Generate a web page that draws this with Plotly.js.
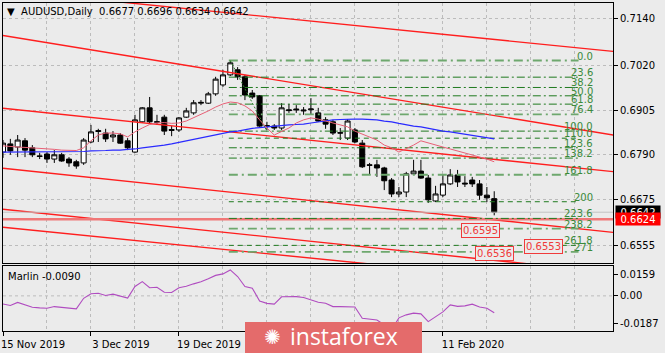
<!DOCTYPE html>
<html><head><meta charset="utf-8">
<script src="https://cdn.plot.ly/plotly-3.0.1.min.js"></script>
<style>html,body{margin:0;padding:0;background:#ebebeb;}#chart{width:665px;height:353px;}</style>
</head><body><div id="chart"></div>
<script>
// ---- candles (15 Nov 2019 .. 20 Feb 2020, daily) ----
const openP  = [0.6797,0.6818,0.6810,0.6826,0.6808,0.6787,0.6792,0.6779,0.6790,0.6779,0.6772,0.6769,0.6823,0.6850,0.6846,0.6836,0.6841,0.6826,0.6797,0.6875,0.6911,0.6874,0.6887,0.6855,0.6854,0.6887,0.6898,0.6923,0.6923,0.6947,0.6970,0.6996,0.7009,0.6991,0.6949,0.6942,0.6865,0.6864,0.6859,0.6906,0.6908,0.6903,0.6906,0.6898,0.6880,0.6875,0.6847,0.6833,0.6854,0.6820,0.6764,0.6764,0.6756,0.6725,0.6689,0.6694,0.6741,0.6748,0.6730,0.6671,0.6686,0.6715,0.6738,0.6717,0.6725,0.6715,0.6686,0.6677];
const highP  = [0.6828,0.6831,0.6841,0.6833,0.6815,0.6795,0.6797,0.6802,0.6795,0.6784,0.6777,0.6833,0.6867,0.6857,0.6857,0.6851,0.6846,0.6833,0.6893,0.6913,0.6939,0.6893,0.6893,0.6864,0.6887,0.6911,0.6931,0.6931,0.6952,0.6991,0.7009,0.7034,0.7016,0.6996,0.6957,0.6944,0.6875,0.6869,0.6923,0.6921,0.6918,0.6913,0.6936,0.6911,0.6887,0.6880,0.6859,0.6882,0.6859,0.6828,0.6769,0.6777,0.6759,0.6730,0.6707,0.6746,0.6777,0.6777,0.6738,0.6710,0.6738,0.6753,0.6751,0.6735,0.6733,0.6725,0.6707,0.6696];
const lowP   = [0.6782,0.6790,0.6784,0.6784,0.6784,0.6779,0.6769,0.6769,0.6772,0.6759,0.6754,0.6764,0.6820,0.6823,0.6823,0.6823,0.6818,0.6802,0.6795,0.6872,0.6872,0.6867,0.6841,0.6838,0.6849,0.6885,0.6893,0.6918,0.6921,0.6942,0.6965,0.6993,0.6983,0.6931,0.6934,0.6862,0.6854,0.6854,0.6854,0.6898,0.6898,0.6893,0.6893,0.6875,0.6857,0.6841,0.6828,0.6828,0.6820,0.6756,0.6738,0.6733,0.6699,0.6681,0.6681,0.6681,0.6738,0.6728,0.6666,0.6668,0.6681,0.6712,0.6707,0.6707,0.6707,0.6674,0.6668,0.6634];
const closeP = [0.6820,0.6800,0.6828,0.6802,0.6790,0.6786,0.6779,0.6790,0.6774,0.6769,0.6761,0.6828,0.6849,0.6852,0.6831,0.6841,0.6820,0.6808,0.6880,0.6911,0.6875,0.6875,0.6851,0.6853,0.6885,0.6903,0.6924,0.6925,0.6947,0.6985,0.6996,0.7027,0.6991,0.6944,0.6939,0.6864,0.6864,0.6859,0.6911,0.6904,0.6906,0.6905,0.6908,0.6877,0.6869,0.6846,0.6846,0.6877,0.6823,0.6759,0.6763,0.6756,0.6723,0.6689,0.6694,0.6741,0.6748,0.6730,0.6674,0.6689,0.6715,0.6738,0.6720,0.6715,0.6715,0.6686,0.6679,0.6642];

// ---- moving averages ----
const maSlow = [0.6797,0.6797,0.6797,0.6797,0.6797,0.6797,0.6797,0.6797,0.6797,0.6797,0.6797,0.67985,0.6800,0.6800,0.6801,0.6802,0.6802,0.6804,0.6805,0.6808,0.6810,0.6813,0.6815,0.6818,0.6822,0.6826,0.6829,0.6833,0.6837,0.6841,0.6845,0.6849,0.6851,0.6855,0.6858,0.6860,0.6862,0.6864,0.6866,0.6867,0.6868,0.6869,0.6872,0.6875,0.6877,0.6880,0.6881,0.6882,0.6882,0.6882,0.6881,0.6880,0.6877,0.6875,0.6871,0.6867,0.6864,0.6862,0.6858,0.6854,0.6851,0.6849,0.6846,0.6844,0.6841,0.6837,0.6835,0.6831];
const maFast = [0.6813,0.6811,0.6810,0.6809,0.6808,0.6806,0.6805,0.6804,0.6802,0.6802,0.6801,0.6808,0.6826,0.6841,0.6846,0.6846,0.6844,0.6836,0.6849,0.6859,0.6868,0.6872,0.6873,0.6871,0.6872,0.6877,0.6885,0.6895,0.6903,0.6913,0.6921,0.6926,0.6924,0.6916,0.6903,0.6880,0.6859,0.6841,0.6849,0.6859,0.6872,0.6880,0.6885,0.6882,0.6877,0.6872,0.6867,0.6862,0.6851,0.6844,0.6836,0.6828,0.6815,0.6808,0.6797,0.6805,0.6815,0.6826,0.6820,0.6815,0.6810,0.6805,0.6800,0.6795,0.6789,0.6784,0.6779,0.6772];

// ---- Marlin oscillator ----
const marlin = [-0.0043,-0.0051,-0.0035,-0.0048,-0.0061,-0.0064,-0.0066,-0.0057,-0.0062,-0.0064,-0.0069,-0.0013,0.0011,0.0014,0.0002,0.0009,0.0000,-0.0012,0.0050,0.0076,0.0043,0.0046,0.0019,0.0018,0.0043,0.0051,0.0064,0.0075,0.0091,0.0109,0.0117,0.0138,0.0103,0.0050,0.0041,-0.0027,-0.0040,-0.0044,-0.0005,-0.0004,-0.0004,-0.0009,-0.0021,-0.0034,-0.0039,-0.0057,-0.0057,-0.0057,-0.0059,-0.0119,-0.0122,-0.0128,-0.0154,-0.0181,-0.0117,-0.0101,-0.0092,-0.0096,-0.0137,-0.0112,-0.0085,-0.0048,-0.0056,-0.0053,-0.0044,-0.0059,-0.0066,-0.0090];

// ---- axes labels ----
const tickIdx  = [0, 12, 24, 60];
const tickText = ['15 Nov 2019', '3 Dec 2019', '19 Dec 2019', '11 Feb 2020'];
const priceTicks  = [0.7140, 0.7020, 0.6905, 0.6790, 0.6675, 0.6555];
const marlinTicks = [0.0159, 0.00, -0.0187];
const marlinTickText = ['0.0159', '0.00', '-0.0187'];

// ---- drawn objects ----
const channelIdx   = [0, 84];
const channelStart = [0.7214, 0.70975, 0.69098, 0.67552, 0.66495, 0.66031];
const channelEnd   = [0.7055, 0.68387, 0.67449, 0.65885, 0.64846, 0.64444];
const supportLevel = 0.6624;
const fibHigh = 0.7033, fibLow = 0.6851;
const fibHighIdx = 31, fibLowIdx = 36;
const fibLevels = [0, 23.6, 38.2, 50, 61.8, 76.4, 100, 110, 123.6, 138.2, 161.8, 200, 223.6, 238.2, 261.8, 271];
const fibLabels = ['0.0', '23.6', '38.2', '50.0', '61.8', '76.4', '100.0', '110.0', '123.6', '138.2', '161.8', '200', '223.6', '238.2', '261.8', '271'];
const targetLevels = [0.6595, 0.6553, 0.6536];

const last = closeP.length - 1;
const barIdx = closeP.map((_, i) => i);
const BG = '#ebebeb';
const FONT = 'DejaVu Sans';
const X_END = 84;

const traces = [];
channelStart.forEach((p0, k) => {
  traces.push({type:'scatter', mode:'lines', x:channelIdx, y:[p0, channelEnd[k]],
    line:{color:'rgb(255,30,30)', width:1.4}, hoverinfo:'skip'});
});
traces.push({type:'scatter', mode:'lines', x:[0, X_END], y:[supportLevel, supportLevel],
  line:{color:'rgb(240,120,120)', width:2.6}, hoverinfo:'skip'});
traces.push({type:'scatter', mode:'lines', x:[0, X_END], y:[closeP[last], closeP[last]],
  line:{color:'#c2c2c2', width:1}, hoverinfo:'skip'});

const fibPrice = l => fibHigh - l / 100 * (fibHigh - fibLow);
const lightSet = new Set([0, 76.4, 161.8, 238.2, 271]);
const dashedSet = new Set([110, 200, 261.8]);
const FIB_X0 = 30.8, FIB_X1 = 78.5;
const groups = {light:{x:[],y:[]}, dashed:{x:[],y:[]}, dd:{x:[],y:[]}};
fibLevels.forEach(l => {
  const g = lightSet.has(l) ? 'light' : (dashedSet.has(l) ? 'dashed' : 'dd');
  const p = fibPrice(l);
  groups[g].x.push(FIB_X0, FIB_X1, null);
  groups[g].y.push(p, p, null);
});
traces.push({type:'scatter', mode:'lines', x:groups.dd.x, y:groups.dd.y,
  line:{color:'#1f7a1f', width:1, dash:'8px,3px,2px,3px'}, hoverinfo:'skip'});
traces.push({type:'scatter', mode:'lines', x:groups.dashed.x, y:groups.dashed.y,
  line:{color:'#1f7a1f', width:1, dash:'5px,4px'}, hoverinfo:'skip'});
traces.push({type:'scatter', mode:'lines', x:groups.light.x, y:groups.light.y,
  line:{color:'#6ea86e', width:1.8, dash:'9px,4px,2px,4px'}, hoverinfo:'skip'});
traces.push({type:'scatter', mode:'lines', x:[fibHighIdx, fibLowIdx], y:[fibHigh, fibLow],
  line:{color:'#2a802a', width:1, dash:'2px,2px'}, hoverinfo:'skip'});

traces.push({type:'scatter', mode:'lines', x:barIdx, y:maSlow, line:{color:'#2a2aff', width:1.2}, hoverinfo:'skip'});
traces.push({type:'scatter', mode:'lines', x:barIdx, y:maFast, line:{color:'rgb(232,96,118)', width:1}, hoverinfo:'skip'});

traces.push({type:'candlestick', x:barIdx, open:openP, high:highP, low:lowP, close:closeP,
  increasing:{line:{color:'#000', width:1}, fillcolor:'#ffffff'},
  decreasing:{line:{color:'#000', width:1}, fillcolor:'#000000'},
  whiskerwidth:0, hoverinfo:'skip'});

traces.push({type:'scatter', mode:'lines', x:barIdx, y:marlin, xaxis:'x2', yaxis:'y2',
  line:{color:'#b04cc0', width:1.1}, hoverinfo:'skip'});

const gridStyle = {gridcolor:'#bcbcbc', griddash:'3px,3px', gridwidth:1};
const frame = {showline:true, mirror:true, linecolor:'#000', linewidth:1, zeroline:false};
const mTop = marlinTicks[0], mBot = marlinTicks[2];
const inset = (mTop - mBot) * 8 / 65;

const annotations = [];
annotations.push({xref:'paper', yref:'paper', x:0, xshift:2, xanchor:'left', y:(331-11.5)/328, yanchor:'middle',
  text:'\u25BC\u00a0\u00a0AUDUSD,Daily\u00a0\u00a0' + [openP[last], highP[last], lowP[last], closeP[last]].map(v=>v.toFixed(4)).join(' '),
  showarrow:false, font:{family:FONT, size:10, color:'#000'}});
annotations.push({xref:'paper', yref:'paper', x:0, xshift:3, xanchor:'left', y:(331-276)/328, yanchor:'middle',
  text:'Marlin ' + marlin[last].toFixed(4), showarrow:false, font:{family:FONT, size:10, color:'#000'}});
fibLevels.forEach((l, k) => {
  annotations.push({xref:'x', yref:'y', x:80.76, xanchor:'right', y:fibPrice(l), yanchor:'bottom', yshift:-3,
    text:fibLabels[k], showarrow:false, font:{family:FONT, size:10, color:'#3a8a3a'}});
});
const targetX = [65.1, 73.7, 67.0];
targetLevels.forEach((p, k) => {
  annotations.push({xref:'x', yref:'y', x:targetX[k], y:p, xanchor:'center', yanchor:'middle',
    text:p.toFixed(4), showarrow:false, font:{family:FONT, size:10, color:'#f03a3a'},
    bordercolor:'#f03a3a', borderwidth:1, borderpad:1, bgcolor:BG});
});
annotations.push({xref:'paper', yref:'y', x:1, xshift:2, xanchor:'left', y:closeP[last], yanchor:'middle',
  text:closeP[last].toFixed(4), showarrow:false, width:42, height:10, bgcolor:'#000', borderpad:1,
  font:{family:FONT, size:10, color:'#fff'}});
annotations.push({xref:'paper', yref:'y', x:1, xshift:2, xanchor:'left', y:supportLevel, yanchor:'middle',
  text:supportLevel.toFixed(4), showarrow:false, width:42, height:10, bgcolor:'#ff0000', borderpad:1,
  font:{family:FONT, size:10, color:'#fff'}});
annotations.push({xref:'paper', yref:'paper', x:(262-3)/610, xanchor:'left', y:(331-337)/328, yanchor:'middle',
  text:'\u273A', showarrow:false, font:{family:'DejaVu Sans', size:20, color:'#fff'}});
annotations.push({xref:'paper', yref:'paper', x:(288-3)/610, xanchor:'left', y:(331-336)/328, yanchor:'middle',
  text:'instaforex', showarrow:false, font:{family:'Open Sans', size:23, color:'#fff'}});

const layout = {
  width:665, height:353,
  margin:{l:3, r:52, t:3, b:22, pad:0, autoexpand:false},
  paper_bgcolor:BG, plot_bgcolor:BG, showlegend:false,
  font:{family:FONT, size:10, color:'#000'},
  boxgap:0.15, boxgroupgap:0.2,
  xaxis:Object.assign({domain:[0,1], anchor:'y', type:'linear', range:[0,83.2], tickmode:'linear', tick0:0, dtick:6,
    showticklabels:false, ticks:'', showgrid:true, rangeslider:{visible:false}, fixedrange:true}, gridStyle, frame),
  yaxis:Object.assign({domain:[0.20732,1], anchor:'x', side:'right', range:[0.65111,0.71812], tickmode:'array',
    tickvals:priceTicks, ticktext:priceTicks.map(v=>v.toFixed(4)), ticks:'outside', ticklen:4, tickcolor:'#000',
    showgrid:true, fixedrange:true}, gridStyle, frame),
  xaxis2:Object.assign({domain:[0,1], anchor:'y2', type:'linear', range:[0,83.2], tickmode:'array', tickvals:tickIdx,
    ticktext:tickText, ticks:'outside', ticklen:4, tickcolor:'#000', ticklabelshift:30, showgrid:true,
    minor:{tick0:0, dtick:6, showgrid:true, gridcolor:'#bcbcbc', griddash:'3px,3px', ticks:''}, fixedrange:true}, gridStyle, frame),
  yaxis2:Object.assign({domain:[0,0.19817], anchor:'x2', side:'right', range:[mBot, mTop], tickmode:'array',
    tickvals:[mTop - inset, 0, mBot + inset], ticktext:marlinTickText, ticks:'outside', ticklen:4, tickcolor:'#000',
    showgrid:false, fixedrange:true}, frame),
  shapes:[
    {type:'line', xref:'x2', yref:'y2', x0:0, x1:83.2, y0:0, y1:0, line:{color:'#bcbcbc', width:1, dash:'3px,3px'}, layer:'below'},
    {type:'rect', xref:'paper', yref:'paper', x0:(245-3)/610, x1:(422-3)/610, y0:(331-354)/328, y1:(331-322)/328,
      fillcolor:'#e46b6b', line:{width:0}, layer:'above'}
  ],
  annotations:annotations
};
Plotly.newPlot('chart', traces, layout, {displayModeBar:false, staticPlot:true});
</script></body></html>
